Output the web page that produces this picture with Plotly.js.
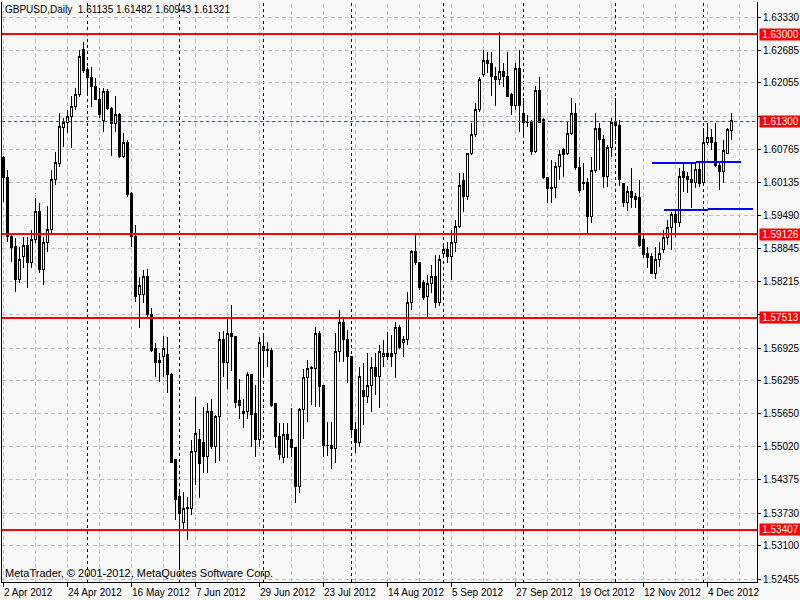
<!DOCTYPE html>
<html><head><meta charset="utf-8">
<script src="https://cdn.plot.ly/plotly-3.0.1.min.js"></script>
<style>
html,body{margin:0;padding:0;background:#f8f8f8}
#chart .boxlayer path, #chart .shapelayer path, #chart .scatterlayer path,
#chart .gridlayer path, #chart .xlines-above, #chart .ylines-above, #chart .xtick, #chart .ytick { shape-rendering: crispEdges; }
</style>
</head><body>
<div id="chart" style="width:800px;height:600px"></div>
<script>
const symbol = 'GBPUSD,Daily';
const firstDay = '2012-04-02';
const copyright = 'MetaTrader, \u00a9 2001-2012, MetaQuotes Software Corp.';

const open = [
1.60603,1.60216,1.59093,1.58881,1.58242,1.58706,1.58900,1.58590,1.59035,1.59558,
1.58436,1.58977,1.59210,1.60196,1.60487,1.61183,1.61280,1.61396,1.61590,1.61822,
1.62693,1.62306,1.62151,1.61977,1.61744,1.61319,1.61880,1.61551,1.61261,1.61435,
1.60622,1.60893,1.59906,1.59074,1.57952,1.57952,1.58300,1.57565,1.56907,1.56675,
1.56771,1.56791,1.56404,1.54759,1.54043,1.53559,1.53811,1.53811,1.54914,1.55146,
1.55088,1.54817,1.55688,1.55011,1.55610,1.57081,1.56636,1.57216,1.57158,1.55901,
1.55649,1.55688,1.56404,1.55649,1.55165,1.56946,1.56868,1.56868,1.55843,1.55223,
1.54798,1.55243,1.55165,1.54991,1.54237,1.55727,1.56346,1.56520,1.56520,1.57216,
1.56210,1.55049,1.55049,1.54972,1.56849,1.57410,1.57081,1.56752,1.55340,1.55107,
1.56094,1.55997,1.56191,1.56539,1.56365,1.56752,1.56829,1.56810,1.56810,1.57313,
1.57023,1.57081,1.57797,1.58784,1.58571,1.58184,1.57913,1.58165,1.58300,1.57816,
1.58764,1.58823,1.58687,1.58977,1.59268,1.60158,1.59848,1.60680,1.61048,1.61532,
1.62209,1.62480,1.62422,1.62189,1.62112,1.62267,1.62170,1.61822,1.61609,1.62325,
1.61454,1.61299,1.61280,1.60719,1.61899,1.61338,1.60216,1.60022,1.60022,1.60429,
1.60758,1.60680,1.61086,1.61473,1.60409,1.60119,1.60119,1.59480,1.60351,1.61164,
1.60951,1.60235,1.60796,1.61280,1.61222,1.60100,1.59751,1.59945,1.59848,1.59829,
1.59016,1.58764,1.58687,1.58377,1.58648,1.58823,1.59055,1.59248,1.59500,1.59345,
1.60332,1.60235,1.60196,1.60119,1.60371,1.60138,1.60893,1.60990,1.60912,1.60467,
1.60332,1.60699,1.61135];

const high = [
1.60641,1.60371,1.59151,1.59055,1.58881,1.59074,1.59074,1.59210,1.59829,1.59732,
1.59074,1.59674,1.60371,1.60719,1.61473,1.61377,1.61532,1.61802,1.61957,1.62693,
1.62847,1.62364,1.62364,1.62151,1.61957,1.61957,1.61938,1.61590,1.61802,1.61473,
1.61086,1.60951,1.59945,1.59306,1.58300,1.58436,1.58455,1.57700,1.57023,1.56829,
1.57158,1.57139,1.56442,1.54759,1.54140,1.54140,1.54043,1.55146,1.55978,1.55359,
1.55785,1.55862,1.55939,1.55630,1.57236,1.57255,1.57526,1.57758,1.57158,1.56326,
1.55939,1.56462,1.56404,1.56210,1.57139,1.57216,1.57042,1.56926,1.55843,1.55475,
1.55475,1.55475,1.55765,1.55011,1.55765,1.56520,1.56694,1.56578,1.57333,1.57255,
1.56210,1.55494,1.55494,1.57216,1.57662,1.57526,1.57275,1.56752,1.55494,1.56559,
1.56636,1.56829,1.56752,1.56829,1.56984,1.57081,1.57236,1.57178,1.57429,1.57371,
1.57158,1.58010,1.58823,1.59113,1.58571,1.58242,1.58339,1.58532,1.58726,1.58726,
1.58958,1.58977,1.59210,1.59403,1.60312,1.60312,1.60699,1.61280,1.61667,1.62170,
1.62693,1.62654,1.62654,1.62364,1.63041,1.62441,1.62654,1.61860,1.62441,1.62693,
1.61764,1.61435,1.61338,1.61996,1.62170,1.61377,1.60216,1.60564,1.60525,1.60758,
1.60796,1.61299,1.61764,1.61667,1.60622,1.60506,1.60216,1.60622,1.61473,1.61280,
1.61048,1.60854,1.61377,1.61764,1.61338,1.60119,1.60061,1.60409,1.59925,1.60177,
1.59151,1.58881,1.58764,1.58881,1.58977,1.59210,1.59403,1.59558,1.59597,1.60409,
1.60506,1.60332,1.60506,1.60506,1.60506,1.61183,1.61280,1.61164,1.61280,1.60525,
1.60951,1.61183,1.61482];

const low = [
1.59751,1.58977,1.58590,1.58010,1.58184,1.58474,1.58087,1.58474,1.58958,1.58377,
1.58145,1.58784,1.59151,1.60080,1.60429,1.60816,1.61086,1.60796,1.61532,1.61783,
1.62247,1.61822,1.61590,1.61725,1.61377,1.61106,1.61532,1.60641,1.61106,1.60603,
1.60603,1.59848,1.58881,1.57816,1.57313,1.57797,1.57526,1.56849,1.56365,1.56268,
1.56365,1.56055,1.54701,1.53598,1.52669,1.53405,1.53211,1.53695,1.54275,1.54024,
1.54507,1.54507,1.54972,1.54701,1.54740,1.56365,1.56133,1.56481,1.55765,1.55552,
1.55378,1.55552,1.55011,1.54817,1.55011,1.56365,1.56559,1.55785,1.54991,1.54759,
1.54701,1.54798,1.54817,1.53927,1.54120,1.55165,1.55494,1.55823,1.55785,1.55785,
1.54817,1.54836,1.54585,1.54701,1.56655,1.56655,1.56249,1.55204,1.54894,1.55011,
1.55436,1.55862,1.55688,1.56017,1.55765,1.56559,1.56694,1.56559,1.56346,1.56907,
1.56752,1.56984,1.57662,1.58532,1.58049,1.57855,1.57526,1.57990,1.57700,1.57739,
1.58668,1.58571,1.58242,1.58784,1.59248,1.59558,1.59790,1.60661,1.61009,1.61493,
1.62170,1.62247,1.61802,1.61609,1.62015,1.61977,1.61783,1.61435,1.61532,1.61106,
1.61009,1.61203,1.60661,1.60699,1.61280,1.60196,1.59732,1.59732,1.59829,1.60177,
1.60235,1.60661,1.61048,1.60371,1.59925,1.59984,1.59151,1.59345,1.60312,1.60371,
1.60022,1.60042,1.60622,1.60951,1.60061,1.59655,1.59577,1.59635,1.59635,1.58890,
1.58668,1.58474,1.58358,1.58261,1.58494,1.58764,1.58919,1.58823,1.59074,1.59268,
1.59945,1.59925,1.59635,1.60022,1.60042,1.60119,1.60854,1.60758,1.60429,1.59984,
1.60119,1.60680,1.60943];

const close = [
1.60216,1.59093,1.58861,1.58242,1.58629,1.58900,1.58590,1.59035,1.59558,1.58436,
1.58977,1.59210,1.60196,1.60506,1.61203,1.61280,1.61396,1.61590,1.61822,1.62576,
1.62286,1.62151,1.61977,1.61744,1.61435,1.61880,1.61551,1.61261,1.61435,1.60622,
1.60893,1.59887,1.59074,1.57913,1.58145,1.58300,1.57565,1.56868,1.56655,1.56636,
1.56907,1.56404,1.54720,1.54004,1.53733,1.53811,1.53830,1.54914,1.55262,1.54682,
1.54817,1.55688,1.55011,1.55610,1.57100,1.56636,1.57216,1.57139,1.55881,1.55804,
1.55688,1.56404,1.55630,1.55165,1.57023,1.56868,1.56888,1.55823,1.55204,1.54856,
1.55243,1.55146,1.54991,1.54237,1.55727,1.56346,1.56520,1.56539,1.57216,1.56172,
1.55030,1.55030,1.54972,1.56849,1.57410,1.57081,1.56752,1.55340,1.55107,1.56365,
1.55997,1.56191,1.56539,1.56365,1.56849,1.56829,1.56752,1.56752,1.57313,1.56926,
1.57081,1.57797,1.58784,1.58571,1.58087,1.57894,1.58165,1.58300,1.57816,1.58629,
1.58823,1.58687,1.58977,1.59268,1.60061,1.59848,1.60680,1.61048,1.61532,1.62131,
1.62480,1.62422,1.62170,1.62112,1.62267,1.62170,1.61802,1.61609,1.62325,1.61609,
1.61280,1.61280,1.60719,1.61899,1.61299,1.60216,1.60003,1.60003,1.60429,1.60661,
1.60661,1.61086,1.61454,1.60409,1.59964,1.60110,1.59480,1.60351,1.61164,1.60951,
1.60235,1.60796,1.61280,1.61222,1.60196,1.59751,1.59945,1.59829,1.59809,1.58900,
1.58726,1.58668,1.58377,1.58648,1.58764,1.59055,1.59248,1.59500,1.59345,1.60235,
1.60216,1.60196,1.60119,1.60371,1.60100,1.60893,1.60990,1.60912,1.60467,1.60332,
1.60738,1.61145,1.61321];

// horizontal levels drawn on the chart, with their axis labels
const levels = [1.63000, 1.59126, 1.57513, 1.53407];
const priceLine = 1.61300;
// price scale ticks (two are hidden under the level labels)
const yTicks = [1.63330,1.62685,1.62055,1.61410,1.60765,1.60135,1.59490,1.58845,1.58215,
                1.57570,1.56925,1.56295,1.55650,1.55020,1.54375,1.53730,1.53100,1.52455];
const yTicksHidden = [1.61410, 1.57570];
// blue trend-line segments (bar index, price)
const trendX = [[162,173],[173,184.25],[165,176],[176,187.25]];
const trendY = [[1.60512,1.60512],[1.60531,1.60531],[1.59597,1.59597],[1.59616,1.59616]];

const MONTHS = ['Jan','Feb','Mar','Apr','May','Jun','Jul','Aug','Sep','Oct','Nov','Dec'];
function tradingDays(start, n) {
  const out = []; const d = new Date(start + 'T00:00:00Z');
  while (out.length < n) {
    const wd = d.getUTCDay();
    if (wd !== 0 && wd !== 6) out.push(new Date(d.getTime()));
    d.setUTCDate(d.getUTCDate() + 1);
  }
  return out;
}
const dates = tradingDays(firstDay, close.length);
const dateLabel = d => d.getUTCDate() + ' ' + MONTHS[d.getUTCMonth()] + ' ' + d.getUTCFullYear();
const idx = close.map((_, i) => i);
const tickIdx = idx.filter(i => i % 16 === 0);
const sepIdx = idx.filter(i => i > 0 && dates[i].getUTCMonth() !== dates[i-1].getUTCMonth());
const gridIdx = []; for (let i = 0; i <= 184; i += 8) gridIdx.push(i);

const FONT = '"Liberation Sans", Arial, sans-serif';

const traces = [{
  type: 'candlestick', x: idx, open: open, high: high, low: low, close: close,
  increasing: {line: {color: '#000000', width: 1}, fillcolor: '#ffffff'},
  decreasing: {line: {color: '#000000', width: 1}, fillcolor: '#000000'},
  whiskerwidth: 0, hoverinfo: 'skip', showlegend: false
}];
trendX.forEach((xs, k) => traces.push({
  type: 'scatter', mode: 'lines', x: xs, y: trendY[k],
  line: {color: '#0000ff', width: 2}, hoverinfo: 'skip', showlegend: false
}));

const shapes = [];
gridIdx.forEach(i => shapes.push({type:'line', xref:'x', yref:'paper', x0:i, x1:i, y0:0, y1:1,
  line:{color:'#c0c0c0', width:1, dash:'4px,3px'}, layer:'below'}));
sepIdx.forEach(i => shapes.push({type:'line', xref:'x', yref:'paper', x0:i, x1:i, y0:0, y1:1,
  line:{color:'#000000', width:1, dash:'3px,3px'}, layer:'below'}));
levels.forEach(v => shapes.push({type:'line', xref:'paper', yref:'y', x0:0, x1:1, y0:v, y1:v,
  line:{color:'#ff0000', width:2}, layer:'above'}));
shapes.push({type:'line', xref:'paper', yref:'y', x0:0, x1:1, y0:priceLine, y1:priceLine,
  line:{color:'#ff0000', width:1, dash:'3px,3px'}, layer:'above'});

const last = close.length - 1;
const annotations = [
  {xref:'paper', yref:'paper', x:0, y:1, xanchor:'left', yanchor:'top', xshift:1, yshift:0,
   showarrow:false, text: symbol + '  ' + [open[last], high[last], low[last], close[last]].map(v => v.toFixed(5)).join(' '),
   font:{family:FONT, size:10, color:'#000000'}},
  {xref:'paper', yref:'paper', x:0, y:0, xanchor:'left', yanchor:'bottom', xshift:1, yshift:1,
   showarrow:false, text: copyright, font:{family:FONT, size:11, color:'#000000'}}
];
tickIdx.forEach(i => annotations.push({
  xref:'x', yref:'paper', x:i, y:0, xanchor:'left', yanchor:'top', xshift:-2, yshift:-3,
  showarrow:false, text: dateLabel(dates[i]), font:{family:FONT, size:10, color:'#000000'}
}));
levels.concat([priceLine]).forEach(v => annotations.push({
  xref:'paper', yref:'y', x:1, y:v, xanchor:'left', yanchor:'middle', xshift:2,
  showarrow:false, text: v.toFixed(5), bgcolor:'#ff0000', borderpad:0, width:41, height:11,
  font:{family:FONT, size:10, color:'#ffffff'}
}));

const layout = {
  width: 800, height: 600,
  margin: {l: 2, r: 43, t: 2, b: 18},
  paper_bgcolor: '#f8f8f8', plot_bgcolor: '#f8f8f8',
  showlegend: false,
  boxgap: 0.5,
  xaxis: {
    type: 'linear', range: [-0.375, 188.375], rangeslider: {visible: false},
    tickmode: 'array', tickvals: tickIdx, showticklabels: false,
    ticks: 'outside', ticklen: 4, tickcolor: '#000000',
    showgrid: false, zeroline: false, showline: true, linecolor: '#000000', linewidth: 1,
    fixedrange: true
  },
  yaxis: {
    side: 'right', range: [1.52398, 1.63621],
    tickmode: 'array', tickvals: yTicks,
    ticktext: yTicks.map(v => yTicksHidden.includes(v) ? '' : v.toFixed(5)),
    ticks: 'outside', ticklen: 3, tickcolor: '#000000',
    showgrid: true, gridcolor: '#c0c0c0', griddash: '4px,3px', gridwidth: 1,
    showline: true, mirror: true, linecolor: '#000000', linewidth: 1, zeroline: false,
    tickfont: {family: FONT, size: 10, color: '#000000'}, fixedrange: true
  },
  shapes: shapes,
  annotations: annotations
};

Plotly.newPlot('chart', traces, layout, {displayModeBar: false, staticPlot: true});
</script>
</body></html>
